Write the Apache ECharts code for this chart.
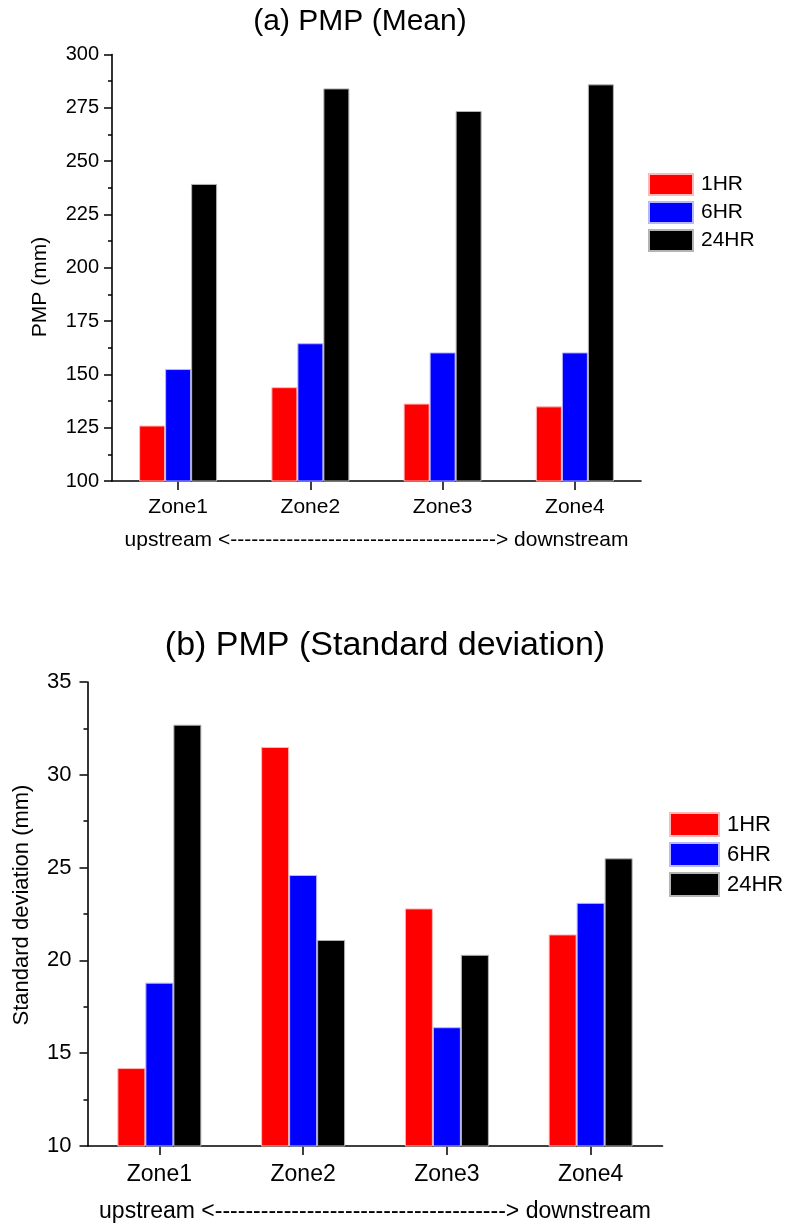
<!DOCTYPE html>
<html>
<head>
<meta charset="utf-8">
<script src="https://cdn.jsdelivr.net/npm/echarts@6/dist/echarts.min.js"></script>
<style>
  html, body { margin: 0; padding: 0; background: #fff; }
  #chart { width: 788px; height: 1224px; }
</style>
</head>
<body>
<div id="chart"></div>
<script>
// Zones along the river, upstream to downstream
const zones = ['Zone1', 'Zone2', 'Zone3', 'Zone4'];
const durations = ['1HR', '6HR', '24HR'];

// (a) mean PMP, mm
const mean1HR = [126, 144, 136.3, 135];
const mean6HR = [152.5, 164.6, 160.3, 160.3];
const mean24HR = [239.3, 284.1, 273.5, 286];

// (b) standard deviation of PMP, mm
const sd1HR = [14.2, 31.5, 22.8, 21.4];
const sd6HR = [18.8, 24.6, 16.4, 23.1];
const sd24HR = [32.7, 21.1, 20.3, 25.5];

// value-axis ranges
const meanAxis = { min: 100, max: 300, interval: 25 };
const sdAxis = { min: 10, max: 35, interval: 5 };

const flowText = 'upstream <' + '-'.repeat(38) + '> downstream';
const FONT = '"Liberation Sans", Arial, Helvetica, sans-serif';

const fills = ['#ff0000', '#0000ff', '#000000'];
const edges = ['#ffb8b8', '#b8b8ff', '#b4b4b4'];

function valueAxis(idx, range, fontSize, margin) {
  return {
    type: 'value', gridIndex: idx,
    min: range.min, max: range.max, interval: range.interval,
    axisLine: { show: true, lineStyle: { color: '#000', width: 1.6 } },
    axisTick: { show: true, inside: false, length: 8, lineStyle: { color: '#000', width: 1.5 } },
    minorTick: { show: true, splitNumber: 2, length: 4, lineStyle: { color: '#000', width: 1.5 } },
    splitLine: { show: false },
    axisLabel: { color: '#000', fontSize: fontSize, fontFamily: FONT, margin: margin }
  };
}

function categoryAxis(idx, fontSize, margin, nameSize, nameGap) {
  return {
    type: 'category', gridIndex: idx, data: zones,
    axisLine: { show: true, lineStyle: { color: '#000', width: 1.6 } },
    axisTick: { show: true, alignWithLabel: true, length: 9, lineStyle: { color: '#000', width: 1.5 } },
    axisLabel: { color: '#000', fontSize: fontSize, fontFamily: FONT, margin: margin },
    name: flowText, nameLocation: 'middle', nameGap: nameGap,
    nameTextStyle: { color: '#000', fontSize: nameSize, fontFamily: FONT }
  };
}

function barSeries(name, data, k, axisIdx, width) {
  return {
    name: name, type: 'bar', data: data,
    xAxisIndex: axisIdx, yAxisIndex: axisIdx,
    barWidth: width, barGap: '0%',
    itemStyle: { color: fills[k], borderColor: edges[k], borderWidth: 1 },
    emphasis: { disabled: true },
    animation: false
  };
}

const chart = echarts.init(document.getElementById('chart'), null, { renderer: 'canvas' });

chart.setOption({
  animation: false,
  backgroundColor: '#fff',
  textStyle: { fontFamily: FONT },
  grid: [
    { left: 112, top: 54.5, width: 529, height: 426.5 },
    { left: 87.5, top: 682, width: 575, height: 464 }
  ],
  xAxis: [
    categoryAxis(0, 21, 16, 21, 49),
    categoryAxis(1, 23, 17, 23, 54)
  ],
  yAxis: [
    valueAxis(0, meanAxis, 20, 13),
    valueAxis(1, sdAxis, 22, 16)
  ],
  legend: [
    {
      orient: 'vertical', left: 648, top: 173, padding: 0,
      itemWidth: 44, itemHeight: 21, itemGap: 5,
      icon: 'rect', selectedMode: false,
      data: durations,
      textStyle: { color: '#000', fontSize: 21, fontFamily: FONT, padding: [0, 0, 0, 3] }
    },
    {
      orient: 'vertical', left: 669, top: 812, padding: 0,
      itemWidth: 49, itemHeight: 23, itemGap: 5,
      icon: 'rect', selectedMode: false,
      data: durations,
      textStyle: { color: '#000', fontSize: 22, fontFamily: FONT, padding: [0, 0, 0, 3] }
    }
  ],
  graphic: [
    { type: 'text', x: 360, y: 22, style: { text: '(a) PMP (Mean)', fill: '#000', font: '30px ' + FONT, align: 'center', verticalAlign: 'middle' } },
    { type: 'text', x: 385, y: 646, style: { text: '(b) PMP (Standard deviation)', fill: '#000', font: '34px ' + FONT, align: 'center', verticalAlign: 'middle' } },
    { type: 'text', x: 40, y: 287, rotation: Math.PI / 2, style: { text: 'PMP (mm)', fill: '#000', font: '21px ' + FONT, align: 'center', verticalAlign: 'middle' } },
    { type: 'text', x: 22, y: 905, rotation: Math.PI / 2, style: { text: 'Standard deviation (mm)', fill: '#000', font: '22px ' + FONT, align: 'center', verticalAlign: 'middle' } }
  ],
  series: [
    barSeries('1HR', mean1HR, 0, 0, 26),
    barSeries('6HR', mean6HR, 1, 0, 26),
    barSeries('24HR', mean24HR, 2, 0, 26),
    barSeries('1HR', sd1HR, 0, 1, 28),
    barSeries('6HR', sd6HR, 1, 1, 28),
    barSeries('24HR', sd24HR, 2, 1, 28)
  ]
});
</script>
</body>
</html>
